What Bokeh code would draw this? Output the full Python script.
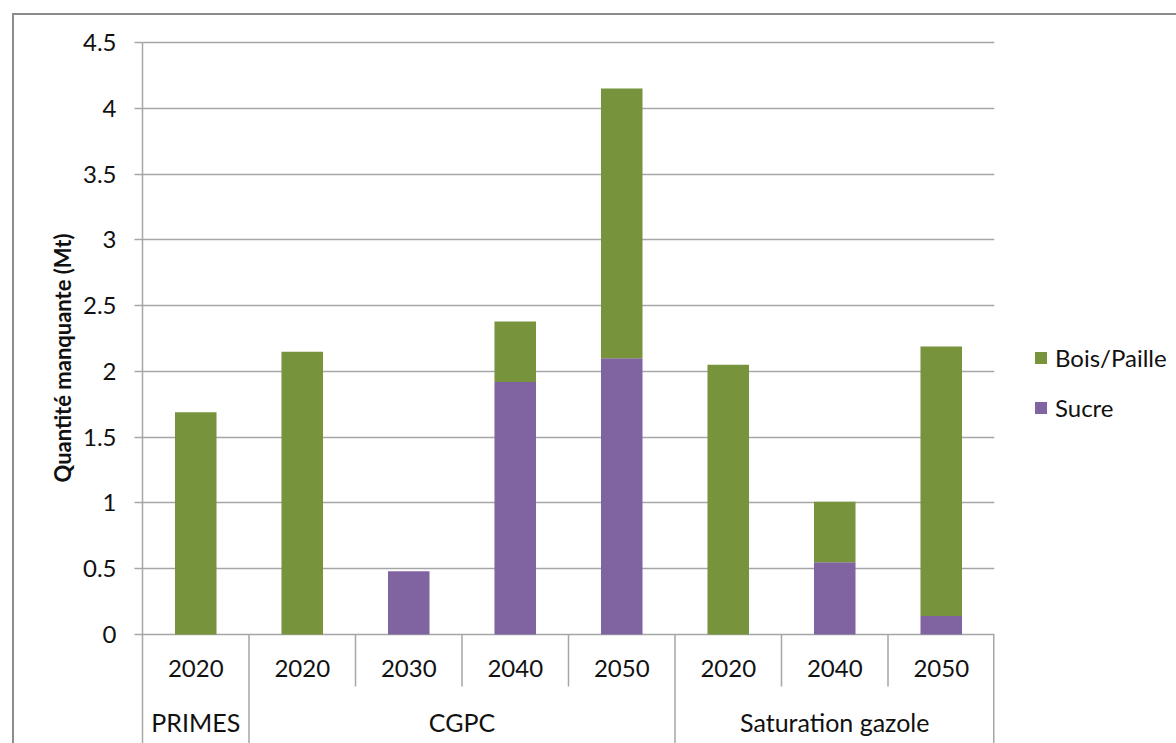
from bokeh.plotting import figure
from bokeh.models import (ColumnDataSource, FactorRange, Range1d, FixedTicker,
                          Legend, LegendItem, Title)
from bokeh.core.properties import value
from bokeh.embed import file_html
from bokeh.resources import INLINE

# --- data -------------------------------------------------------------
scenarios = ["PRIMES", "CGPC", "CGPC", "CGPC", "CGPC",
             "Saturation gazole", "Saturation gazole", "Saturation gazole"]
years = ["2020", "2020", "2030", "2040", "2050", "2020", "2040", "2050"]
sucre = [0.0, 0.0, 0.48, 1.92, 2.10, 0.0, 0.55, 0.14]
bois_paille = [1.69, 2.15, 0.0, 0.46, 2.05, 2.05, 0.46, 2.05]
y_ticks = [0, 0.5, 1, 1.5, 2, 2.5, 3, 3.5, 4, 4.5]
y_tick_labels = ["0", "0.5", "1", "1.5", "2", "2.5", "3", "3.5", "4", "4.5"]
series_names = ["Sucre", "Bois/Paille"]
y_title = "Quantité manquante (Mt)"

# --- style -------------------------------------------------------------
FONT = "Lato"
GREEN = "#77933C"
PURPLE = "#8064A2"
GRID = "#a6a6a6"
FRAME = "#8c8c8c"
TEXT = "#111111"

factors = list(zip(scenarios, years))
src = ColumnDataSource(dict(x=factors, sucre=sucre, bois=bois_paille))

# vertical scale: 4.5 Mt spread over 592 px, frame 713 px tall
px = 4.5 / 592.0
y_range = Range1d(start=-109 * px, end=4.5 + 12 * px)

p = figure(
    x_range=FactorRange(*factors, factor_padding=0, group_padding=0,
                        subgroup_padding=0, range_padding=0),
    y_range=y_range,
    frame_width=852, frame_height=713,
    min_border_left=142, min_border_right=182,
    min_border_top=30, min_border_bottom=0,
    x_axis_location=None,
    output_backend="svg", toolbar_location=None,
)
p.outline_line_color = None
p.background_fill_color = "white"
p.border_fill_alpha = 0
p.xgrid.visible = False
# thin grey frame around the whole chart (top and left edges are in view)
p.styles = {
    "background-color": "white",
    "box-shadow": f"inset 12px 13px 0 0 white, inset 14px 15px 0 0 {FRAME}",
}

ticker = FixedTicker(ticks=y_ticks)
p.yaxis.ticker = ticker
p.yaxis.bounds = (y_range.start, 4.5)
p.yaxis.major_label_overrides = {t: s for t, s in zip(y_ticks, y_tick_labels)}
p.yaxis.major_tick_in = 0
p.yaxis.major_tick_out = 8
p.yaxis.minor_tick_line_color = None
p.yaxis.major_tick_line_color = GRID
p.yaxis.major_tick_line_width = 1.5
p.yaxis.axis_line_color = GRID
p.yaxis.axis_line_width = 1.5
p.yaxis.major_label_standoff = 18
p.yaxis.major_label_text_font = FONT
p.yaxis.major_label_text_font_size = "24px"
p.yaxis.major_label_text_color = TEXT

# axis title, centred on the 0 - 4.5 span rather than the whole frame
p.add_layout(Title(text=y_title, align="left", offset=261, standoff=8,
                   text_font=FONT, text_font_size="22px",
                   text_font_style="bold", text_color=TEXT), "left")

p.ygrid.ticker = ticker
p.ygrid.grid_line_color = GRID
p.ygrid.grid_line_width = 1.5

# stacked bars: sugar at the bottom, wood/straw on top
bars = p.vbar_stack(["sucre", "bois"], x="x", width=0.39, source=src,
                    color=[PURPLE, GREEN], line_color=None)

# --- category table below the bars ----------------------------------
n = len(factors)
groups = []
for i, g in enumerate(scenarios):
    if not groups or groups[-1][0] != g:
        groups.append([g, i, i + 1])
    else:
        groups[-1][2] = i + 1

y_year = -34 * px
y_group = -87 * px
y_short = -52 * px
y_long = y_range.start

p.text(x="x", y="y", text="t",
       source=ColumnDataSource(dict(x=factors, y=[y_year] * n, t=years)),
       text_font=value(FONT), text_font_size="24px", text_color=TEXT,
       text_align="center", text_baseline="middle")

p.text(x="x", y="y", text="t",
       source=ColumnDataSource(dict(
           x=[(a + b) / 2 for _, a, b in groups],
           y=[y_group] * len(groups),
           t=[g for g, _, _ in groups])),
       text_font=value(FONT), text_font_size="25px", text_color=TEXT,
       text_align="center", text_baseline="middle")

group_edges = {a for _, a, _ in groups} | {b for _, _, b in groups}
bx, by, bw = [], [], []
for b in range(1, n + 1):
    bx.append(b)
    by.append(y_long if b in group_edges else y_short)
    bw.append(3 if b == n else 1.5)
p.segment(x0="x", y0=0, x1="x", y1="y", line_width="w",
          source=ColumnDataSource(dict(x=bx, y=by, w=bw)),
          line_color=GRID)

# --- legend -------------------------------------------------------------
legend = Legend(
    items=[LegendItem(label=series_names[1], renderers=[bars[1]]),
           LegendItem(label=series_names[0], renderers=[bars[0]])],
    location=(39, 321),
    glyph_width=15, glyph_height=15, label_standoff=7,
    label_text_font=FONT, label_text_font_size="24px",
    label_text_color=TEXT,
    spacing=21, padding=0, margin=0,
    border_line_color=None, background_fill_alpha=0,
)
p.add_layout(legend, "right")

open("out.html", "w").write(file_html(p, INLINE))
